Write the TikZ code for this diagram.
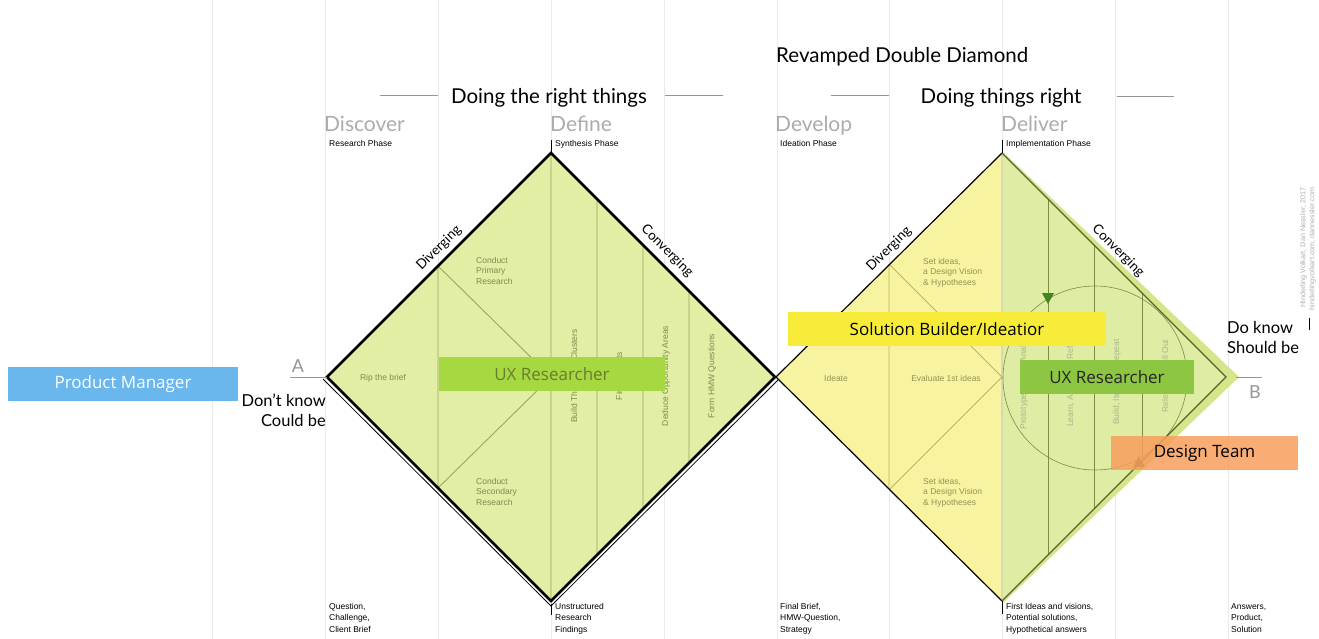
\documentclass[tikz,border=0pt]{standalone}
\usepackage{fontspec}
\setmainfont{Liberation Sans}
\newfontfamily\headfont{Lato}
\newfontfamily\boxfont{Open Sans}
\definecolor{gridc}{RGB}{234,234,234}
\definecolor{lgfill}{RGB}{226,238,164}
\definecolor{lline}{RGB}{150,168,95}
\definecolor{intext}{RGB}{125,140,80}
\definecolor{yfill}{RGB}{248,243,160}
\definecolor{yline}{RGB}{190,180,95}
\definecolor{ytext}{RGB}{150,145,85}
\definecolor{gband}{RGB}{212,230,138}
\definecolor{ginner}{RGB}{223,236,163}
\definecolor{gline}{RGB}{125,140,65}
\definecolor{gtext}{RGB}{168,182,138}
\definecolor{darkol}{RGB}{85,100,40}
\definecolor{phasegray}{RGB}{172,172,172}
\definecolor{agray}{RGB}{150,150,150}
\definecolor{pmblue}{RGB}{106,183,238}
\definecolor{uxone}{RGB}{166,216,66}
\definecolor{uxonetext}{RGB}{105,125,45}
\definecolor{solyel}{RGB}{248,236,58}
\definecolor{uxtwo}{RGB}{140,198,66}
\definecolor{dteam}{RGB}{248,158,92}
\definecolor{credit}{RGB}{175,175,175}
\begin{document}
\begin{tikzpicture}[x=1pt,y=-1pt,
  gridline/.style={draw=gridc, line width=1pt},
  phase/.style={font=\headfont\fontsize{21}{24}\selectfont, text=phasegray, anchor=base west, inner sep=0},
  subphase/.style={font=\fontsize{8.5}{11}\selectfont, anchor=base west, inner sep=0},
  heading/.style={font=\headfont\fontsize{20.5}{24}\selectfont, inner sep=0},
  bottomtxt/.style={font=\fontsize{8.5}{11.5}\selectfont, anchor=north west, align=left, inner sep=0},
  intxt/.style={font=\fontsize{8.5}{10.5}\selectfont, text=intext, align=left, inner sep=0},
  ytxt/.style={font=\fontsize{8.5}{10.5}\selectfont, text=ytext, align=left, inner sep=0},
  gtxt/.style={font=\fontsize{8.5}{10.5}\selectfont, text=gtext, inner sep=0, rotate=90},
  edgelabel/.style={font=\headfont\fontsize{13.5}{15}\selectfont, inner sep=0},
  sidelabel/.style={font=\headfont\fontsize{16.5}{20}\selectfont, inner sep=0},
  letter/.style={font=\headfont\fontsize{18}{20}\selectfont, text=agray, inner sep=0},
  role/.style={font=\boxfont\fontsize{17}{20}\selectfont, inner sep=0, minimum height=34pt},
  headline/.style={draw=agray, line width=0.9pt}
]
\fill[white] (0,0) rectangle (1319,639);
\useasboundingbox (0,0) rectangle (1319,639);

% grid
\foreach \gx in {212,325,438,551,664,777,889,1002,1115,1228}
  \draw[gridline] (\gx,0) -- (\gx,639);

% ---------- left diamond ----------
\coordinate (LA) at (327,377);
\coordinate (LT) at (551,153);
\coordinate (LR) at (775,377);
\coordinate (LB) at (551,601);
\fill[lgfill] (LA)--(LT)--(LR)--(LB)--cycle;
\draw[lline, line width=0.9pt] (438,266)--(438,488) (551,153)--(551,601)
  (438,266)--(551,377)--(438,488)
  (597,199)--(597,555) (643,245)--(643,509) (689,291)--(689,463);
\draw[black, line width=2.6pt, line join=miter] (LA)--(LT)--(LR)--(LB)--cycle;
\draw[black, line width=0.8pt] (323,379)--(551,606)--(779,379);
\draw[black, line width=0.7pt] (551,140)--(LT) (551,604)--(551,615);

% ---------- right diamond ----------
\coordinate (RA) at (776,377);
\coordinate (RT) at (1002,153);
\coordinate (RR) at (1226,377);
\coordinate (RB) at (1002,601);
\fill[gband] (1003,152)--(1239,377)--(1003,603)--cycle;
\fill[ginner] (1003,154)--(1225,377)--(1003,600)--cycle;
\fill[yfill] (RA)--(RT)--(RB)--cycle;
\draw[yline, line width=0.9pt] (889,264)--(889,490) (889,264)--(1002,377)--(889,490)
  (1002,153)--(1002,601);
\draw[gline, line width=0.9pt] (1048,199)--(1048,555) (1094,245)--(1094,509) (1142,293)--(1142,461);
\draw[gline, line width=0.6pt] (1095,378) circle[radius=92pt];
\fill[darkol!80!green] (1042,293)--(1054,293)--(1048,304)--cycle;
\fill[darkol!80!green] (1133,467)--(1145,467)--(1139,456)--cycle;
\draw[black, line width=1.2pt] (RT)--(RA)--(RB);
\draw[darkol, line width=1.1pt, line join=miter] (RT)--(RR)--(RB);
\draw[black, line width=0.7pt] (1002,140)--(RT) (RB)--(1002,614);

% A and B
\coordinate (Aend) at (290,377);
\coordinate (Bstart) at (1236,377);
\coordinate (Bend) at (1262,377);
\draw[agray, line width=0.9pt] (Aend)--(LA);
\draw[agray, line width=0.9pt] (Bstart)--(Bend);
\node[letter] (A) at (298,366) {A};
\node[letter] (B) at (1255,392) {B};

% ---------- headers ----------
\node[heading, anchor=base west] (title) at (776,63) {Revamped Double Diamond};
\node[heading, anchor=base] (dtr) at (549,104) {Doing the right things};
\node[heading, anchor=base] (dtri) at (1001,104) {Doing things right};
\draw[headline] (380,95)--(438,95) (665,95)--(723,95);
\draw[headline] (831,95)--(889,95) (1117,96)--(1174,96);

\node[phase] (ph1) at (324,132) {Discover};
\node[phase] (ph2) at (550,132) {Define};
\node[phase] (ph3) at (775,132) {Develop};
\node[phase] (ph4) at (1001,132) {Deliver};
\node[subphase] (s1) at (329,147) {Research Phase};
\node[subphase] (s2) at (555,147) {Synthesis Phase};
\node[subphase] (s3) at (780,147) {Ideation Phase};
\node[subphase] (s4) at (1006,147) {Implementation Phase};

% bottom texts
\node[bottomtxt] (b1) at (329,603) {Question,\\Challenge,\\Client Brief};
\node[bottomtxt] (b2) at (555,603) {Unstructured\\Research\\Findings};
\node[bottomtxt] (b3) at (780,603) {Final Brief,\\HMW-Question,\\Strategy};
\node[bottomtxt] (b4) at (1006,603) {First Ideas and visions,\\Potential solutions,\\Hypothetical answers};
\node[bottomtxt] (b5) at (1231,603) {Answers,\\Product,\\Solution};

% edge labels
\node[edgelabel, rotate=45] (dv1) at (439,248) {Diverging};
\node[edgelabel, rotate=-45] (cv1) at (667,251) {Converging};
\node[edgelabel, rotate=45] (dv2) at (889,249) {Diverging};
\node[edgelabel, rotate=-45] (cv2) at (1118,251) {Converging};

% left diamond texts
\node[intxt] (rip) at (383,378) {Rip the brief};
\node[intxt, anchor=north west] (cpr) at (476,257) {Conduct\\Primary\\Research};
\node[intxt, anchor=north west] (csr) at (476,478) {Conduct\\Secondary\\Research};
\node[intxt, rotate=90] (btc) at (574,376) {Build Themes \& Clusters};
\node[intxt, rotate=90] (fin) at (620,376) {Find Insights};
\node[intxt, rotate=90] (doa) at (666,376) {Deduce Opportunity Areas};
\node[intxt, rotate=90] (fhq) at (712,376) {Form HMW Questions};

% right diamond texts
\node[ytxt] (ide) at (836,378) {Ideate};
\node[ytxt] (ev) at (946,378) {Evaluate 1st ideas};
\node[ytxt, anchor=north west] (si1) at (923,258) {Set ideas,\\a Design Vision\\\& Hypotheses};
\node[ytxt, anchor=north west] (si2) at (923,478) {Set ideas,\\a Design Vision\\\& Hypotheses};
\node[gtxt] (g1) at (1024,381) {Prototype, Test \& Analyse};
\node[gtxt] (g2) at (1071,381) {Learn, Analyse \& Refine};
\node[gtxt] (g3) at (1117,382) {Build, Iterate \& Repeat};
\node[gtxt] (g4) at (1165,376) {Release \& Roll Out};

% side labels
\node[sidelabel, anchor=north east, align=right] (dk) at (326,394) {Don’t know\\Could be};
\node[sidelabel, anchor=north west, align=left] (dok) at (1227,321) {Do know\\Should be};

% credit
\node[font=\fontsize{7.2}{9}\selectfont, text=credit, rotate=90, align=right, inner sep=0] (cr) at (1308,249)
  {Hinderling Volkart, Dan Nessler, 2017\\hinderlingvolkart.com, dannessler.com};
\draw[black, line width=0.7pt] (1309,318)--(1309,330);

% role boxes
\node[role, fill=pmblue, text=white, minimum width=230pt] (pm) at (123,384) {Product Manager};
\node[role, fill=uxone, text=uxonetext, minimum width=226pt] (ux1) at (552,374) {UX Researcher};
\node[role, fill=solyel, text=black, minimum width=318pt] (sb) at (947,329) {Solution Builder/Ideatior};
\node[role, fill=uxtwo, text=black!85, minimum width=174pt] (ux2) at (1107,377) {UX Researcher};
\node[role, fill=dteam, fill opacity=0.85, text opacity=1, text=black, minimum width=187pt] (dt) at (1204.5,453) {Design Team};
\end{tikzpicture}
\end{document}
